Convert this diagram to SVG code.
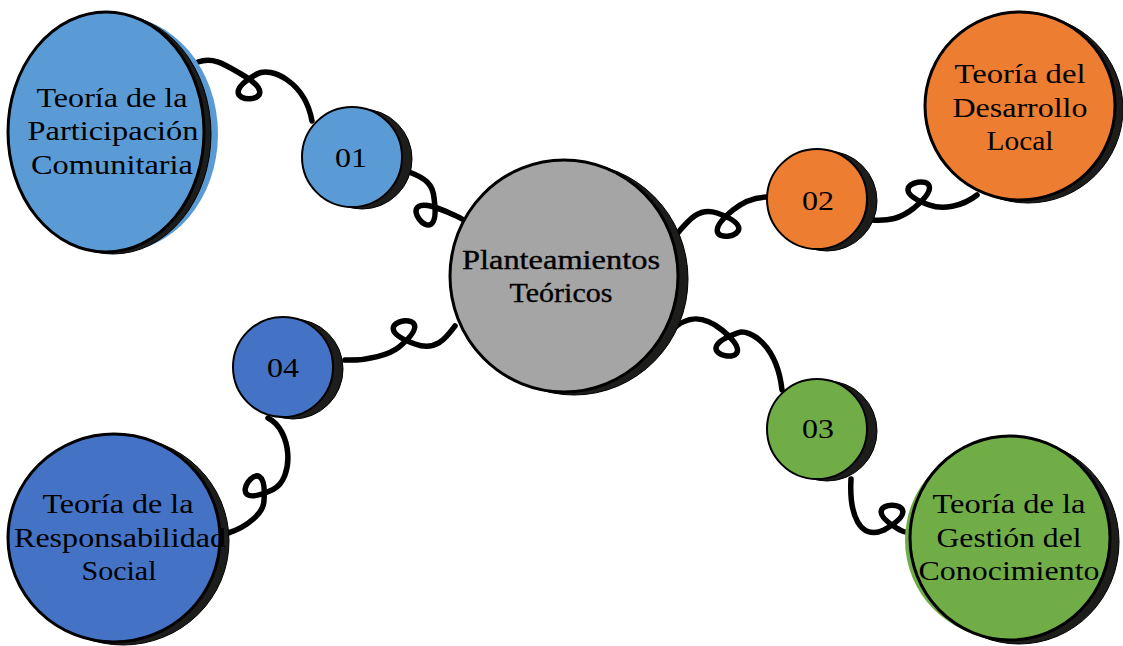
<svg xmlns="http://www.w3.org/2000/svg" width="1123" height="646" viewBox="0 0 1123 646">
<style>
.conn{fill:none;stroke:#000;stroke-width:5.5;stroke-linecap:round;stroke-linejoin:round}
.sh{fill:#1d1d1b;stroke:#000;stroke-width:1}
.ol{stroke:#000;stroke-width:3}
.ols{stroke:#000;stroke-width:2}
text{font-family:"Liberation Serif","Times New Roman",serif;font-size:28px;fill:#000;text-anchor:middle}
.ctr{font-size:27px;stroke:#000;stroke-width:0.35}
</style>
<rect width="1123" height="646" fill="#fff"/>
<g id="connectors">
<path class="conn" d="M198,62 C214,56 227,66 241,74 C299,107 199,107 257,74 C271,66 305,82 312,121"/>
<path class="conn" d="M409,172 C425,178 433,184 434,198 C443.7,264 382.1,185.2 443.9,210.6 C453,214.5 457,216 462,219"/>
<path class="conn" d="M676,235 C690,218 700,207 717,213 C779.9,235.4 681.3,252.8 732.8,210.2 C741.8,202.7 754,197 768,197"/>
<path class="conn" d="M872,220 C889,221 900,219 914,208 C965.4,165.4 866.9,182.8 929.8,205.2 C942,209.5 962,207 977,195"/>
<path class="conn" d="M671,331 C686,316 702,314 722,330 C773.4,372.6 674.9,355.2 737.8,332.8 C750,328.5 777,345 782,390"/>
<path class="conn" d="M851,479 C849,515 860,541 884,530 C942,497 842,497 900,530 C905,533 908,533 912,532"/>
<path class="conn" d="M455,326 C446,338 436,352 415,344 C352.2,321.6 450.7,304.2 399.2,346.8 C390.2,354.3 368,361 345,360"/>
<path class="conn" d="M268,418 C292,430 295,478 273,489.5 C212.7,518.1 270.1,436.2 263.8,502.6 C262.8,512.6 248,527 228,533"/>
</g>
<g id="center">
<ellipse class="sh" cx="574" cy="279" rx="114" ry="116"/>
<ellipse class="ol" fill="#A5A5A5" cx="564" cy="276" rx="114" ry="116"/>
<text class="ctr" x="561" y="269" textLength="198" lengthAdjust="spacingAndGlyphs">Planteamientos</text>
<text class="ctr" x="561" y="302" textLength="103" lengthAdjust="spacingAndGlyphs">Teóricos</text>
</g>
<g id="participacion">
<ellipse fill="#5B9BD5" cx="118" cy="134" rx="100" ry="118"/>
<ellipse class="sh" cx="113" cy="134" rx="98" ry="120"/>
<ellipse class="ol" fill="#5B9BD5" cx="106" cy="132" rx="98" ry="120"/>
<text x="112" y="107" textLength="151" lengthAdjust="spacingAndGlyphs">Teoría de la</text>
<text x="113" y="140" textLength="171" lengthAdjust="spacingAndGlyphs">Participación</text>
<text x="112" y="174" textLength="162" lengthAdjust="spacingAndGlyphs">Comunitaria</text>
</g>
<g id="n01">
<circle class="sh" cx="362" cy="159" r="50"/>
<circle class="ols" fill="#5B9BD5" cx="352" cy="157" r="50"/>
<text x="351" y="167" textLength="32" lengthAdjust="spacingAndGlyphs">01</text>
</g>
<g id="desarrollo">
<ellipse class="sh" cx="1028" cy="109" rx="95" ry="94"/>
<ellipse class="ol" fill="#ED7D31" cx="1020" cy="106" rx="95" ry="94"/>
<text x="1020" y="83" textLength="131" lengthAdjust="spacingAndGlyphs">Teoría del</text>
<text x="1020" y="117" textLength="135" lengthAdjust="spacingAndGlyphs">Desarrollo</text>
<text x="1020" y="150" textLength="67" lengthAdjust="spacingAndGlyphs">Local</text>
</g>
<g id="n02">
<circle class="sh" cx="827" cy="201" r="50"/>
<circle class="ols" fill="#ED7D31" cx="817" cy="199" r="50"/>
<text x="818" y="210" textLength="32" lengthAdjust="spacingAndGlyphs">02</text>
</g>
<g id="gestion">
<ellipse fill="#70AD47" cx="1003" cy="540" rx="98" ry="98"/>
<ellipse class="sh" cx="1019" cy="542" rx="100" ry="102"/>
<ellipse class="ol" fill="#70AD47" cx="1010" cy="538" rx="100" ry="102"/>
<text x="1009" y="513" textLength="153" lengthAdjust="spacingAndGlyphs">Teoría de la</text>
<text x="1009" y="547" textLength="145" lengthAdjust="spacingAndGlyphs">Gestión del</text>
<text x="1009" y="580" textLength="181" lengthAdjust="spacingAndGlyphs">Conocimiento</text>
</g>
<g id="n03">
<circle class="sh" cx="827" cy="431" r="50"/>
<circle class="ols" fill="#70AD47" cx="817" cy="429" r="50"/>
<text x="818" y="438" textLength="32" lengthAdjust="spacingAndGlyphs">03</text>
</g>
<g id="responsabilidad">
<ellipse class="sh" cx="123" cy="541" rx="106" ry="104"/>
<ellipse class="ol" fill="#4472C4" cx="114" cy="538" rx="106" ry="104"/>
<text x="118" y="513" textLength="151" lengthAdjust="spacingAndGlyphs">Teoría de la</text>
<text x="120" y="547" textLength="212" lengthAdjust="spacingAndGlyphs">Responsabilidad</text>
<text x="119" y="580" textLength="75" lengthAdjust="spacingAndGlyphs">Social</text>
</g>
<g id="n04">
<circle class="sh" cx="293" cy="369" r="50"/>
<circle class="ols" fill="#4472C4" cx="283" cy="367" r="50"/>
<text x="283" y="377" textLength="32" lengthAdjust="spacingAndGlyphs">04</text>
</g>
</svg>
